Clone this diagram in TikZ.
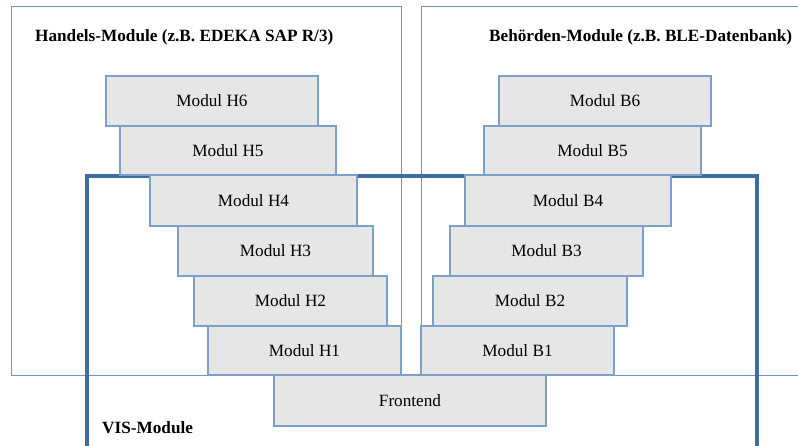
\documentclass[tikz,border=0pt]{standalone}
\usepackage{fontspec}
\setmainfont{Liberation Serif}
\definecolor{thinblue}{RGB}{110,150,195}
\definecolor{modblue}{RGB}{125,160,200}
\definecolor{visblue}{RGB}{65,108,162}
\definecolor{modgray}{RGB}{230,230,230}
\begin{document}
\begin{tikzpicture}[x=1pt,y=-1pt,
  mod/.style={draw=modblue, fill=modgray, line width=1.2pt, inner sep=0pt, font=\fontsize{17.2}{20}\selectfont},
  frame/.style={draw=thinblue, line width=1pt},
  visframe/.style={draw=visblue, line width=3.2pt},
  title/.style={font=\fontsize{17.2}{20}\selectfont\bfseries, anchor=base west, inner sep=0pt}]
\useasboundingbox (0,0) rectangle (798,446);
\clip (0,0) rectangle (798,446);
\draw[frame] (11,7) rectangle (401,375);
\draw[frame] (421,7) rectangle (805,375);
\draw[visframe] (87,176) rectangle (757,450);
\node[title] (th) at (35,42) {Handels-Module (z.B. EDEKA SAP R/3)};
\node[title] (tb) at (489,42) {Behörden-Module (z.B. BLE-Datenbank)};
\node[title] (tv) at (102,433) {VIS-Module};
\node[mod, minimum width=212pt, minimum height=50pt] (h6) at (212,101) {Modul H6};
\node[mod, minimum width=216pt, minimum height=49pt] (h5) at (228,150.5) {Modul H5};
\node[mod, minimum width=207pt, minimum height=51pt] (h4) at (253.5,200.5) {Modul H4};
\node[mod, minimum width=195pt, minimum height=50pt] (h3) at (275.5,251) {Modul H3};
\node[mod, minimum width=193pt, minimum height=50pt] (h2) at (290.5,301) {Modul H2};
\node[mod, minimum width=193pt, minimum height=49pt] (h1) at (304.5,350.5) {Modul H1};
\node[mod, minimum width=212pt, minimum height=50pt] (b6) at (605,101) {Modul B6};
\node[mod, minimum width=217pt, minimum height=49pt] (b5) at (592.5,150.5) {Modul B5};
\node[mod, minimum width=206pt, minimum height=51pt] (b4) at (568,200.5) {Modul B4};
\node[mod, minimum width=193pt, minimum height=50pt] (b3) at (546.5,251) {Modul B3};
\node[mod, minimum width=194pt, minimum height=50pt] (b2) at (530,301) {Modul B2};
\node[mod, minimum width=193pt, minimum height=49pt] (b1) at (517.5,350.5) {Modul B1};
\node[mod, minimum width=272pt, minimum height=51pt] (fe) at (410,400.5) {Frontend};
\end{tikzpicture}
\end{document}
